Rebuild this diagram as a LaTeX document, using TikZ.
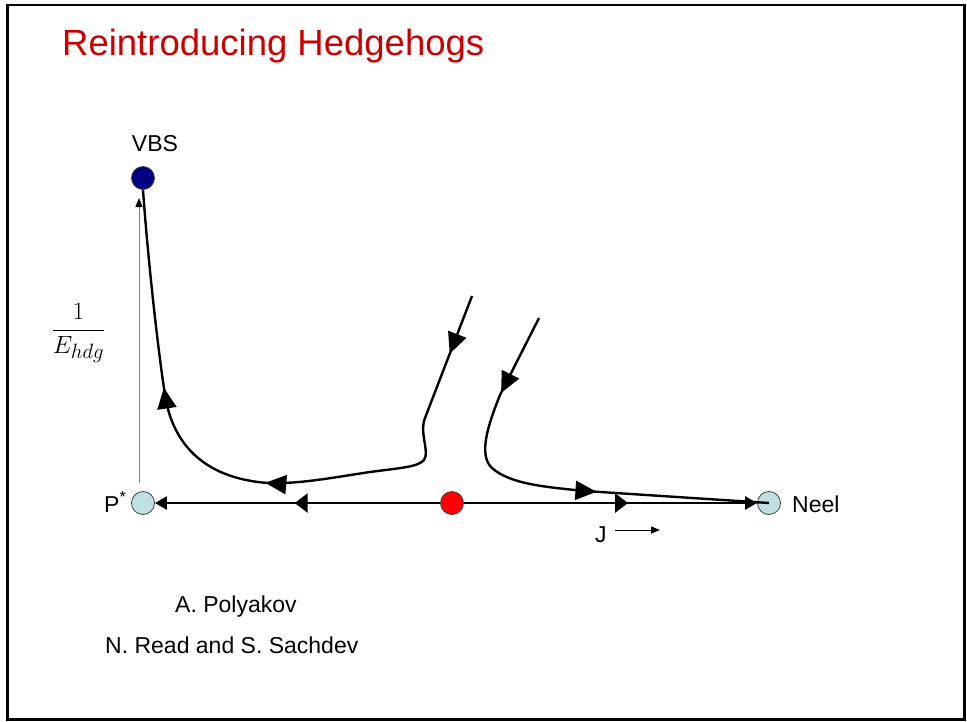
\documentclass[tikz,border=0pt]{standalone}
\usepackage{fontspec}
\setmainfont{Liberation Sans}
\usetikzlibrary{arrows.meta,decorations.markings}
\definecolor{titlered}{RGB}{204,0,0}
\definecolor{fpcyan}{RGB}{191,225,228}
\definecolor{vbsblue}{RGB}{0,0,128}
\tikzset{
  fixpt/.style={circle,draw=black!75,line width=0.8pt,minimum size=23pt,inner sep=0pt},
  lbl/.style={font=\fontsize{23}{27}\selectfont,inner sep=0pt},
  flow/.style={line width=2.4pt},
  bigtip/.tip={Triangle[length=21pt,width=19pt]},
  midtip/.tip={Triangle[length=13pt,width=19pt]},
  endtip/.tip={Triangle[length=12pt,width=13pt]},
  smalltip/.tip={Triangle[length=9pt,width=7pt]},
  marks/.style={postaction={decorate,decoration={markings,#1}}},
}

\begin{document}
\begin{tikzpicture}[x=1pt,y=-1pt]
  \useasboundingbox (0,0) rectangle (967,721);
  \draw[line width=2.5pt] (7.5,5) rectangle (964.5,719.5);
  % ---- title ----
  \node[anchor=base west,inner sep=0pt,text=titlered,font=\fontsize{36.5}{40}\selectfont] (title) at (62,55) {Reintroducing Hedgehogs};
  % ---- fixed points ----
  \node[fixpt,fill=vbsblue] (vbs) at (143,178) {};
  \node[fixpt,fill=fpcyan] (pstar) at (143,503) {};
  \node[fixpt,fill=red] (crit) at (452,503) {};
  \node[fixpt,fill=fpcyan] (neel) at (769,503) {};
  \node[lbl,anchor=base] (vbslbl) at (155,151) {VBS};
  \node[lbl,anchor=base west] (pslbl) at (104,512) {P\textsuperscript{*}};
  \node[lbl,anchor=base west] (neellbl) at (792,512) {Neel};
  % ---- axis ----
  \coordinate (axbot) at (139,483);
  \coordinate (axtop) at (139,198);
  \draw[gray,line width=1pt,-{Triangle[length=9pt,width=7pt,color=black]}] (axbot) -- (axtop);
  \node[font=\fontsize{28}{32}\selectfont] (ylbl) at (78.5,333) {$\displaystyle\frac{1}{E_{hdg}}$};
  \node[lbl,anchor=base west] (jlbl) at (595,542) {J};
  \coordinate (jfrom) at (615,530);
  \coordinate (jto) at (660,530);
  \draw[line width=1pt,-smalltip] (jfrom) -- (jto);
  % ---- flows ----
  \draw[flow,-endtip,marks={mark=at position 0.51 with {\arrow{midtip}}}] (crit) -- (pstar);
  \draw[flow,-endtip,marks={mark=at position 0.56 with {\arrow{midtip}}}] (crit) -- (neel);
  \coordinate (s1) at (472,296);
  \coordinate (s2) at (539,318);
  \draw[flow,marks={mark=at position 62pt with {\arrow{bigtip}},
                    mark=at position 335pt with {\arrow{bigtip}},
                    mark=at position 488pt with {\arrow{bigtip}}}]
    (s1) -- (425,418) .. controls (419,433) and (430,452) .. (424,460)
    .. controls (418,467) and (400,468) .. (370,472)
    .. controls (330,478) and (300,484) .. (268,483)
    .. controls (200,478) and (172,440) .. (165,395)
    .. controls (158,350) and (148,260) .. (vbs.south);
  \draw[flow,marks={mark=at position 84pt with {\arrow{bigtip}},
                    mark=at position 272pt with {\arrow{bigtip}}}]
    (s2) -- (500,395) .. controls (488,425) and (478,455) .. (492,468)
    .. controls (510,484) and (545,487) .. (585,491) -- (neel.center);
  % ---- references ----
  \node[lbl,anchor=base west] (ref1) at (175,612) {A. Polyakov};
  \node[lbl,anchor=base west] (ref2) at (105,653) {N. Read and S. Sachdev};
\end{tikzpicture}
\end{document}
